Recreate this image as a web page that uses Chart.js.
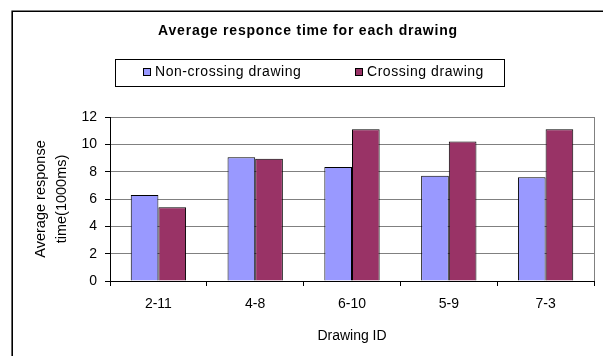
<!DOCTYPE html>
<html>
<head>
<meta charset="utf-8">
<script src="https://cdn.jsdelivr.net/npm/chart.js@4.4.1/dist/chart.umd.min.js"></script>
<style>
  html, body { margin: 0; padding: 0; background: #ffffff; }
  #wrap { width: 603px; height: 356px; position: relative; }
</style>
</head>
<body>
<div id="wrap"><canvas id="chart" width="603" height="356"></canvas></div>
<script>
// Drawing IDs and mean response times (thousands of ms)
const categories = ['2-11', '4-8', '6-10', '5-9', '7-3'];
const nonCrossing = [6.3, 9.05, 8.35, 7.7, 7.6];
const crossing = [5.4, 8.95, 11.1, 10.2, 11.1];
const yTicks = [0, 2, 4, 6, 8, 10, 12];

const seriesNames = ['Non-crossing drawing', 'Crossing drawing'];
const seriesColors = ['#9999FF', '#993366'];
const titleText = 'Average responce time for each drawing';

const FONT = 'Arial, "Liberation Sans", sans-serif';

// Frame, heading, legend box and plot-area right edge
const decorations = {
  id: 'decorations',
  afterDraw(chart) {
    const ctx = chart.ctx;
    const area = chart.chartArea;
    ctx.save();

    // right edge of the plot area
    ctx.strokeStyle = '#808080';
    ctx.lineWidth = 1;
    ctx.beginPath();
    ctx.moveTo(Math.round(area.right) + 0.5, area.top);
    ctx.lineTo(Math.round(area.right) + 0.5, area.bottom);
    ctx.stroke();

    // outer frame
    ctx.strokeStyle = '#000000';
    ctx.lineWidth = 1.6;
    ctx.beginPath();
    ctx.moveTo(12.2, 400);
    ctx.lineTo(12.2, 11.2);
    ctx.lineTo(700, 11.2);
    ctx.stroke();

    // heading
    ctx.fillStyle = '#000000';
    ctx.font = 'bold 14px ' + FONT;
    ctx.textAlign = 'center';
    ctx.textBaseline = 'middle';
    if ('letterSpacing' in ctx) ctx.letterSpacing = '0.8px';
    ctx.fillText(titleText, 308, 31.5);

    // legend
    ctx.strokeStyle = '#000000';
    ctx.lineWidth = 1;
    ctx.strokeRect(115.5, 59.5, 389, 27);
    const itemX = [143, 355];
    ctx.font = '14px ' + FONT;
    ctx.textAlign = 'left';
    if ('letterSpacing' in ctx) ctx.letterSpacing = '0.55px';
    chart.data.datasets.forEach((ds, i) => {
      ctx.fillStyle = ds.backgroundColor;
      ctx.fillRect(itemX[i], 68, 7, 7);
      ctx.strokeStyle = '#000000';
      ctx.strokeRect(itemX[i] + 0.5, 68.5, 7, 7);
      ctx.fillStyle = '#000000';
      ctx.fillText(ds.label, itemX[i] + 12, 72.5);
    });
    if ('letterSpacing' in ctx) ctx.letterSpacing = '0px';
    ctx.restore();
  }
};

new Chart(document.getElementById('chart'), {
  type: 'bar',
  data: {
    labels: categories,
    datasets: [
      { label: seriesNames[0], data: nonCrossing, backgroundColor: seriesColors[0],
        borderColor: '#000000', borderWidth: 1, categoryPercentage: 2 / 3.5, barPercentage: 1 },
      { label: seriesNames[1], data: crossing, backgroundColor: seriesColors[1],
        borderColor: '#000000', borderWidth: 1, categoryPercentage: 2 / 3.5, barPercentage: 1 }
    ]
  },
  options: {
    responsive: false,
    animation: false,
    devicePixelRatio: 1,
    layout: { padding: { top: 117, left: 0, right: 9, bottom: 0 } },
    plugins: {
      legend: { display: false },
      title: { display: false },
      tooltip: { enabled: false }
    },
    scales: {
      x: {
        grid: { offset: true, drawOnChartArea: false, drawTicks: true, tickLength: 5, tickColor: '#000000' },
        border: { color: '#000000', width: 1 },
        ticks: { color: '#000000', font: { family: FONT, size: 14 }, padding: 10, maxRotation: 0 },
        title: { display: true, text: 'Drawing ID', color: '#000000',
                 font: { family: FONT, size: 14 }, padding: { top: 0, bottom: 11.5 } },
        afterFit(scale) { scale.height = 75; }
      },
      y: {
        min: 0,
        max: 12,
        afterBuildTicks(scale) { scale.ticks = yTicks.map(v => ({ value: v })); },
        grid: { color: '#808080', lineWidth: 1, tickLength: 5, tickColor: '#000000' },
        border: { color: '#000000', width: 1 },
        ticks: { color: '#000000', font: { family: FONT, size: 14 }, padding: 8 },
        title: { display: true, text: ['Average response', 'time(1000ms)'], color: '#000000',
                 font: { family: FONT, size: 14.5, lineHeight: 1.45 }, padding: { top: 30.5, bottom: 0 } },
        afterFit(scale) { scale.width = 110; }
      }
    }
  },
  plugins: [decorations]
});
</script>
</body>
</html>
